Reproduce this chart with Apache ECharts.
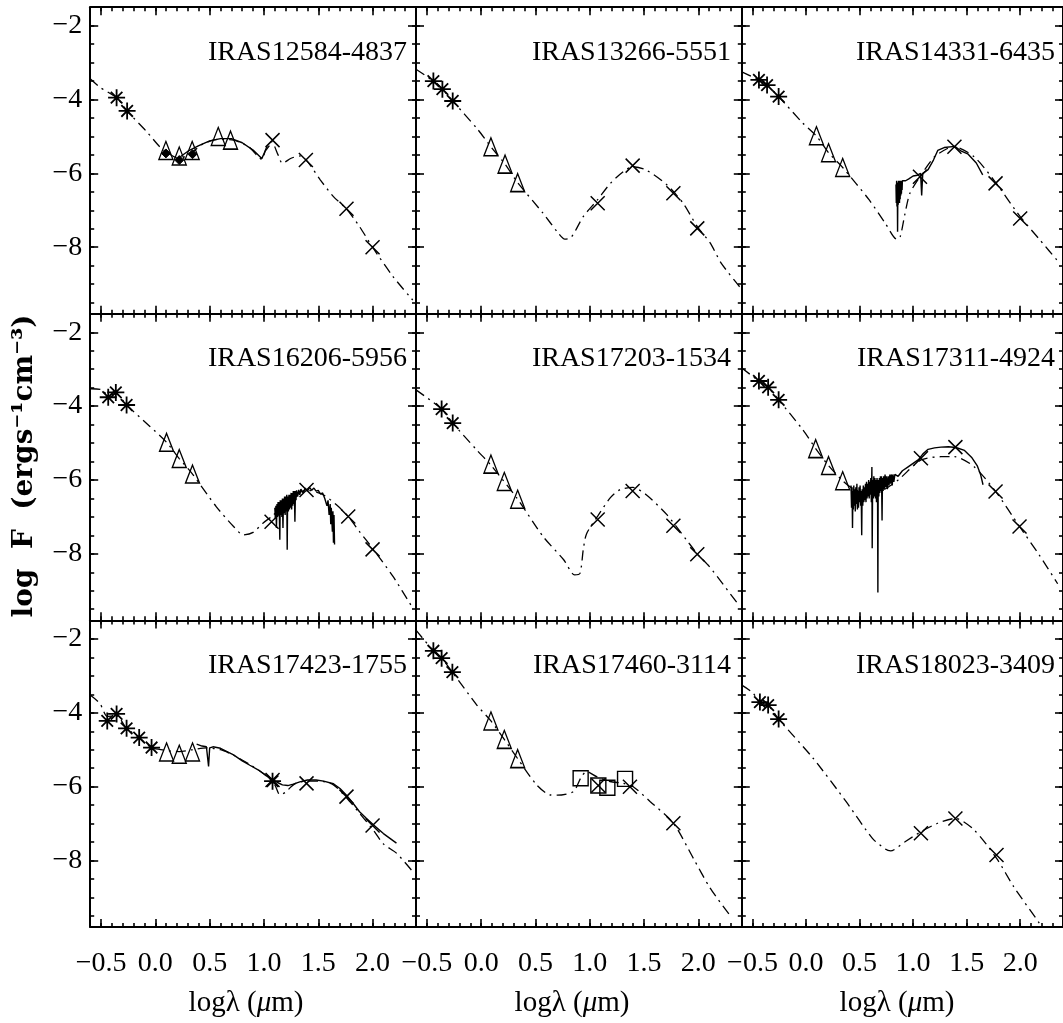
<!DOCTYPE html>
<html><head><meta charset="utf-8">
<script src="https://cdn.jsdelivr.net/npm/echarts@6/dist/echarts.min.js"></script>
<style>html,body{margin:0;padding:0;background:#fff}#c{width:1063px;height:1023px}</style>
</head><body><div id="c"></div>
<script>
// ---------- tick values ----------
const xMajorTicks = [-0.5, 0, 0.5, 1, 1.5, 2];
const xMinorTicks = [-0.5, -0.4, -0.3, -0.2, -0.1, 0, 0.1, 0.2, 0.3, 0.4, 0.5, 0.6, 0.7, 0.8, 0.9, 1, 1.1, 1.2, 1.3, 1.4, 1.5, 1.6, 1.7, 1.8, 1.9, 2, 2.1, 2.2, 2.3];
const yMajorTicks = [-8, -6, -4, -2];
const yMinorTicks = [-9.5, -9, -8.5, -8, -7.5, -7, -6.5, -6, -5.5, -5, -4.5, -4, -3.5, -3, -2.5, -2];

// ---------- panel names ----------
const names = ['IRAS12584-4837', 'IRAS13266-5551', 'IRAS14331-6435',
               'IRAS16206-5956', 'IRAS17203-1534', 'IRAS17311-4924',
               'IRAS17423-1755', 'IRAS17460-3114', 'IRAS18023-3409'];

// ---------- panel 1 ----------
const p1_model = [[-0.6,-3.44],[-0.51,-3.67],[-0.357,-3.95],[-0.26,-4.31],[-0.08,-4.87],[0.04,-5.28],[0.1,-5.42],[0.22,-5.6],[0.35,-5.4],[0.44,-5.2],[0.58,-5.08],[0.72,-5.1],[0.86,-5.28],[0.98,-5.62],[1.02,-5.32],[1.07,-5.14],[1.13,-5.5],[1.17,-5.73],[1.25,-5.59],[1.33,-5.53],[1.39,-5.64],[1.52,-6.18],[1.64,-6.63],[1.76,-6.96],[1.88,-7.44],[2.0,-8.0],[2.19,-8.8],[2.37,-9.43]];
const p1_spec = [[0.23,-5.55],[0.3,-5.4],[0.4,-5.25],[0.5,-5.12],[0.6,-5.06],[0.7,-5.06],[0.8,-5.17],[0.9,-5.37],[0.98,-5.6],[1.01,-5.4],[1.05,-5.25]];
const p1_ast = [[-0.357,-3.95],[-0.26,-4.31]];
const p1_tri = [[0.097,-5.38],[0.22,-5.53],[0.339,-5.38],[0.579,-5.0],[0.692,-5.1]];
const p1_diam = [[0.097,-5.46],[0.22,-5.64],[0.342,-5.48]];
const p1_cross = [[1.079,-5.1],[1.386,-5.64],[1.76,-6.96],[2.0,-8.0]];

// ---------- panel 2 ----------
const p2_model = [[-0.6,-3.18],[-0.44,-3.5],[-0.357,-3.72],[-0.262,-4.04],[-0.04,-4.78],[0.09,-5.28],[0.22,-5.75],[0.336,-6.25],[0.57,-7.08],[0.7,-7.58],[0.77,-7.78],[0.83,-7.73],[0.94,-7.17],[1.07,-6.72],[1.19,-6.27],[1.31,-5.95],[1.395,-5.82],[1.52,-5.91],[1.71,-6.31],[1.86,-6.81],[1.99,-7.44],[2.11,-7.89],[2.21,-8.43],[2.38,-9.07]];
const p2_ast = [[-0.44,-3.5],[-0.357,-3.72],[-0.262,-4.04]];
const p2_tri = [[0.09,-5.28],[0.22,-5.75],[0.336,-6.25]];
const p2_cross = [[1.073,-6.81],[1.395,-5.79],[1.77,-6.54],[1.99,-7.49]];

// ---------- panel 3 ----------
const p3_model = [[-0.6,-3.25],[-0.44,-3.47],[-0.364,-3.61],[-0.256,-3.92],[-0.03,-4.64],[0.1,-5.0],[0.21,-5.44],[0.342,-5.84],[0.59,-6.72],[0.74,-7.35],[0.85,-7.79],[0.88,-7.71],[0.925,-7.08],[0.97,-6.54],[1.064,-6.09],[1.2,-5.55],[1.325,-5.32],[1.386,-5.28],[1.57,-5.55],[1.754,-6.18],[2.0,-7.17],[2.184,-7.8],[2.37,-8.44]];
const p3_spec = [[0.84,-6.3],[0.843,-6.8],[0.846,-6.2],[0.849,-6.9],[0.852,-6.25],[0.855,-7.58],[0.858,-6.3],[0.861,-6.85],[0.864,-6.2],[0.867,-6.75],[0.87,-6.25],[0.873,-6.8],[0.876,-6.2],[0.879,-6.7],[0.882,-6.25],[0.885,-6.6],[0.888,-6.2],[0.891,-6.55],[0.894,-6.25],[0.897,-6.45],[0.9,-6.2],[0.93,-6.2],[0.96,-6.15],[1.0,-6.07],[1.04,-6.05],[1.07,-6.0],[1.08,-6.6],[1.09,-6.0],[1.14,-5.9],[1.19,-5.64],[1.23,-5.38],[1.29,-5.3],[1.39,-5.27],[1.45,-5.4],[1.51,-5.47],[1.59,-5.72],[1.65,-6.04]];
const p3_ast = [[-0.44,-3.47],[-0.364,-3.61],[-0.256,-3.92]];
const p3_tri = [[0.097,-4.98],[0.21,-5.44],[0.342,-5.84]];
const p3_cross = [[1.064,-6.09],[1.386,-5.28],[1.77,-6.27],[2.0,-7.22]];

// ---------- panel 4 ----------
const p4_model = [[-0.6,-3.53],[-0.5,-3.55],[-0.434,-3.7],[-0.364,-3.66],[-0.265,-3.97],[-0.05,-4.55],[0.103,-4.98],[0.22,-5.42],[0.342,-5.84],[0.56,-6.72],[0.72,-7.26],[0.81,-7.49],[0.9,-7.42],[0.99,-7.17],[1.07,-6.99],[1.21,-6.63],[1.39,-6.27],[1.545,-6.4],[1.67,-6.68],[1.776,-6.99],[1.88,-7.4],[2.0,-7.85],[2.19,-8.62],[2.37,-9.47]];
const p4_spec = [[1.1,-6.75],[1.105,-7.05],[1.11,-6.7],[1.115,-7.3],[1.12,-6.65],[1.125,-7.0],[1.13,-6.6],[1.135,-6.95],[1.14,-6.6],[1.146,-7.62],[1.15,-6.55],[1.155,-6.95],[1.16,-6.55],[1.165,-7.0],[1.17,-6.5],[1.175,-7.3],[1.18,-6.5],[1.185,-6.9],[1.19,-6.45],[1.195,-6.95],[1.2,-6.45],[1.205,-6.85],[1.21,-6.4],[1.214,-7.89],[1.218,-6.45],[1.225,-6.85],[1.23,-6.4],[1.235,-6.8],[1.24,-6.4],[1.245,-6.75],[1.25,-6.35],[1.255,-6.8],[1.26,-6.35],[1.265,-6.7],[1.27,-6.3],[1.275,-6.65],[1.28,-6.3],[1.285,-7.13],[1.29,-6.3],[1.295,-6.55],[1.3,-6.28],[1.31,-6.45],[1.32,-6.27],[1.33,-6.4],[1.34,-6.25],[1.36,-6.35],[1.38,-6.22],[1.4,-6.3],[1.42,-6.2],[1.44,-6.28],[1.46,-6.22],[1.48,-6.3],[1.5,-6.28],[1.52,-6.38],[1.54,-6.35],[1.56,-6.5],[1.57,-6.45],[1.58,-6.7],[1.59,-6.55],[1.6,-6.95],[1.61,-6.65],[1.615,-7.2],[1.62,-6.75],[1.63,-7.4],[1.635,-6.85],[1.64,-7.7],[1.645,-6.95],[1.65,-7.75]];
const p4_ast = [[-0.434,-3.76],[-0.364,-3.63],[-0.265,-3.97]];
const p4_tri = [[0.103,-4.98],[0.22,-5.42],[0.342,-5.84]];
const p4_cross = [[1.07,-7.13],[1.392,-6.27],[1.776,-6.99],[2.0,-7.88]];

// ---------- panel 5 ----------
const p5_model = [[-0.6,-3.56],[-0.364,-4.08],[-0.262,-4.46],[-0.04,-5.19],[0.09,-5.6],[0.336,-6.52],[0.57,-7.53],[0.76,-8.16],[0.86,-8.57],[0.91,-8.53],[0.94,-7.89],[0.97,-7.46],[1.073,-6.98],[1.19,-6.48],[1.28,-6.26],[1.395,-6.2],[1.52,-6.4],[1.71,-6.94],[1.89,-7.62],[1.99,-8.0],[2.1,-8.34],[2.37,-9.38]];
const p5_ast = [[-0.364,-4.08],[-0.262,-4.46]];
const p5_tri = [[0.09,-5.57],[0.213,-6.04],[0.336,-6.52]];
const p5_cross = [[1.073,-7.07],[1.395,-6.3],[1.77,-7.24],[1.99,-8.01]];

// ---------- panel 6 ----------
const p6_model = [[-0.6,-2.97],[-0.44,-3.32],[-0.354,-3.49],[-0.256,-3.83],[-0.03,-4.64],[0.09,-5.15],[0.21,-5.61],[0.342,-6.02],[0.42,-6.2],[0.55,-6.35],[0.7,-6.3],[0.86,-6.0],[1.073,-5.46],[1.26,-5.37],[1.386,-5.37],[1.57,-5.64],[1.77,-6.31],[1.994,-7.26],[2.18,-8.04],[2.35,-8.81]];
const p6_spec = [[0.42,-6.15],[0.425,-6.75],[0.43,-6.2],[0.434,-7.3],[0.438,-6.3],[0.442,-6.8],[0.446,-6.15],[0.45,-6.7],[0.455,-6.25],[0.46,-6.85],[0.465,-6.2],[0.47,-6.65],[0.475,-6.1],[0.48,-6.8],[0.485,-6.3],[0.49,-6.75],[0.495,-6.2],[0.5,-6.6],[0.505,-6.15],[0.51,-6.7],[0.515,-6.3],[0.52,-7.5],[0.524,-6.25],[0.53,-6.7],[0.535,-6.15],[0.54,-6.6],[0.545,-6.2],[0.55,-6.55],[0.555,-6.1],[0.56,-6.6],[0.565,-6.05],[0.57,-6.5],[0.575,-6.1],[0.58,-6.45],[0.585,-6.0],[0.59,-6.5],[0.595,-6.05],[0.6,-6.4],[0.605,-5.95],[0.61,-6.6],[0.615,-5.65],[0.618,-7.85],[0.622,-6.0],[0.628,-6.5],[0.633,-5.9],[0.638,-6.45],[0.643,-5.95],[0.648,-6.5],[0.653,-6.0],[0.658,-6.6],[0.663,-5.95],[0.668,-6.4],[0.671,-9.05],[0.674,-6.0],[0.68,-6.45],[0.685,-5.95],[0.69,-6.35],[0.695,-5.9],[0.7,-6.3],[0.705,-5.9],[0.71,-7.1],[0.714,-5.95],[0.72,-6.3],[0.725,-5.9],[0.73,-6.25],[0.738,-5.85],[0.745,-6.2],[0.752,-5.9],[0.76,-6.25],[0.768,-5.9],[0.775,-6.15],[0.783,-5.85],[0.79,-6.1],[0.798,-5.85],[0.805,-6.15],[0.812,-5.85],[0.82,-6.05],[0.83,-5.85],[0.86,-5.9],[0.9,-5.75],[0.95,-5.65],[1.0,-5.55],[1.05,-5.45],[1.09,-5.3],[1.14,-5.17],[1.2,-5.13],[1.26,-5.11],[1.33,-5.1],[1.4,-5.12],[1.48,-5.2],[1.55,-5.4],[1.6,-5.62],[1.63,-5.85],[1.653,-6.13]];
const p6_ast = [[-0.44,-3.32],[-0.354,-3.49],[-0.256,-3.83]];
const p6_tri = [[0.09,-5.15],[0.21,-5.61],[0.342,-6.02]];
const p6_cross = [[1.073,-5.41],[1.395,-5.11],[1.77,-6.31],[1.994,-7.26]];

// ---------- panel 7 ----------
const p7_model = [[-0.6,-3.52],[-0.51,-3.75],[-0.443,-4.1],[-0.357,-4.08],[-0.265,-4.42],[-0.149,-4.67],[-0.035,-4.94],[0.1,-5.02],[0.22,-5.05],[0.34,-5.0],[0.47,-4.95],[0.6,-5.0],[0.72,-5.15],[0.87,-5.4],[1.02,-5.7],[1.1,-5.95],[1.146,-6.22],[1.2,-6.15],[1.25,-6.0],[1.3,-5.9],[1.39,-5.85],[1.52,-5.85],[1.64,-5.95],[1.76,-6.3],[1.88,-6.72],[2.0,-7.15],[2.1,-7.55],[2.22,-7.8],[2.37,-8.3]];
const p7_spec = [[0.38,-4.85],[0.43,-4.9],[0.47,-4.92],[0.49,-5.45],[0.5,-4.95],[0.53,-4.92],[0.6,-4.96],[0.66,-5.05],[0.72,-5.14],[0.8,-5.3],[0.87,-5.42],[0.95,-5.55],[1.02,-5.7],[1.08,-5.8],[1.12,-5.88],[1.17,-5.95],[1.22,-5.97],[1.27,-5.93],[1.33,-5.87],[1.4,-5.82],[1.48,-5.82],[1.55,-5.85],[1.64,-5.92],[1.7,-6.05],[1.76,-6.23],[1.82,-6.45],[1.88,-6.68],[1.94,-6.85],[2.01,-7.04],[2.1,-7.27],[2.16,-7.4],[2.22,-7.53]];
const p7_ast = [[-0.443,-4.22],[-0.357,-4.03],[-0.265,-4.42],[-0.149,-4.67],[-0.035,-4.94],[1.079,-5.85]];
const p7_tri = [[0.103,-5.06],[0.22,-5.12],[0.342,-5.06]];
const p7_cross = [[1.079,-5.82],[1.392,-5.91],[1.76,-6.27],[2.0,-7.05]];

// ---------- panel 8 ----------
const p8_model = [[-0.6,-1.76],[-0.44,-2.32],[-0.364,-2.52],[-0.265,-2.9],[-0.04,-3.79],[0.09,-4.22],[0.213,-4.72],[0.336,-5.24],[0.51,-5.95],[0.63,-6.22],[0.7,-6.23],[0.85,-6.13],[0.92,-5.75],[0.97,-5.59],[1.064,-5.73],[1.186,-5.86],[1.31,-5.91],[1.4,-6.0],[1.555,-6.4],[1.77,-6.99],[1.954,-7.94],[2.107,-8.74],[2.31,-9.56]];
const p8_ast = [[-0.44,-2.32],[-0.364,-2.52],[-0.265,-2.9]];
const p8_tri = [[0.09,-4.22],[0.213,-4.72],[0.336,-5.24]];
const p8_sq = [[0.916,-5.77],[1.079,-5.97],[1.162,-6.03],[1.325,-5.79]];
const p8_cross = [[1.079,-5.97],[1.37,-6.0],[1.77,-6.99]];

// ---------- panel 9 ----------
const p9_model = [[-0.6,-3.25],[-0.5,-3.45],[-0.431,-3.71],[-0.354,-3.79],[-0.256,-4.17],[0.066,-5.23],[0.373,-6.4],[0.62,-7.4],[0.74,-7.69],[0.79,-7.74],[0.925,-7.49],[1.073,-7.22],[1.23,-6.99],[1.395,-6.86],[1.57,-7.17],[1.78,-7.94],[1.94,-8.71],[2.18,-9.7],[2.2,-9.8]];
const p9_ast = [[-0.431,-3.71],[-0.354,-3.79],[-0.256,-4.17]];
const p9_cross = [[1.073,-7.26],[1.395,-6.86],[1.779,-7.85]];

// ---------- assemble ----------
const panels = [
  {model:p1_model, spec:p1_spec, ast:p1_ast, tri:p1_tri, cross:p1_cross, diam:p1_diam},
  {model:p2_model, ast:p2_ast, tri:p2_tri, cross:p2_cross},
  {model:p3_model, spec:p3_spec, ast:p3_ast, tri:p3_tri, cross:p3_cross},
  {model:p4_model, spec:p4_spec, ast:p4_ast, tri:p4_tri, cross:p4_cross},
  {model:p5_model, ast:p5_ast, tri:p5_tri, cross:p5_cross},
  {model:p6_model, spec:p6_spec, ast:p6_ast, tri:p6_tri, cross:p6_cross},
  {model:p7_model, spec:p7_spec, ast:p7_ast, tri:p7_tri, cross:p7_cross},
  {model:p8_model, ast:p8_ast, tri:p8_tri, cross:p8_cross, sq:p8_sq},
  {model:p9_model, ast:p9_ast, cross:p9_cross}
];

const FONT = '"Liberation Serif", "Times New Roman", serif';
const colLeft = [90.2, 416.0, 741.8];
const rowTop = [7.2, 313.8, 620.5];
const titleRight = [407, 731, 1055];
const GW = 325.8, GH = 306.5;
const XMIN = -0.6, XMAX = 2.4, YMIN = -9.8, YMAX = -1.5;

const fmt = (v, d) => (v < 0 ? '\u2212' : '') + Math.abs(v).toFixed(d);

const grids = [], xAxes = [], yAxes = [], series = [], titles = [];
const ASTER = 'path://M5,0L5,10M0,5L10,5M1.6,1.6L8.4,8.4M1.6,8.4L8.4,1.6';
const CROSS = 'path://M0,0L10,10M0,10L10,0';

panels.forEach((p, gi) => {
  const r = Math.floor(gi / 3), c = gi % 3;
  grids.push({left: colLeft[c], top: rowTop[r], width: GW, height: GH, containLabel: false});
  const lineSt = {color: '#000', width: 2};
  const tickSt = {color: '#000', width: 1.6};
  const baseX = {gridIndex: gi, type: 'value', min: XMIN, max: XMAX, splitLine: {show: false}};
  const baseY = {gridIndex: gi, type: 'value', min: YMIN, max: YMAX, splitLine: {show: false}};
  xAxes.push(Object.assign({}, baseX, {position: 'bottom',
    axisLine: {show: true, onZero: false, lineStyle: lineSt},
    axisTick: {show: true, inside: true, length: 8, customValues: xMajorTicks, lineStyle: tickSt},
    axisLabel: {show: r === 2, customValues: xMajorTicks, formatter: v => fmt(v, 1), margin: 23,
      fontFamily: FONT, fontSize: 28, color: '#000'}}));
  xAxes.push(Object.assign({}, baseX, {position: 'bottom',
    axisLine: {show: false, onZero: false},
    axisTick: {show: true, inside: true, length: 4, customValues: xMinorTicks, lineStyle: tickSt},
    axisLabel: {show: false}}));
  xAxes.push(Object.assign({}, baseX, {position: 'top',
    axisLine: {show: true, onZero: false, lineStyle: lineSt},
    axisTick: {show: true, inside: true, length: 8, customValues: xMajorTicks, lineStyle: tickSt},
    axisLabel: {show: false}}));
  xAxes.push(Object.assign({}, baseX, {position: 'top',
    axisLine: {show: false, onZero: false},
    axisTick: {show: true, inside: true, length: 4, customValues: xMinorTicks, lineStyle: tickSt},
    axisLabel: {show: false}}));
  yAxes.push(Object.assign({}, baseY, {position: 'left',
    axisLine: {show: true, onZero: false, lineStyle: lineSt},
    axisTick: {show: true, inside: true, length: 8, customValues: yMajorTicks, lineStyle: tickSt},
    axisLabel: {show: c === 0, customValues: yMajorTicks, formatter: v => fmt(v, 0), margin: 8,
      fontFamily: FONT, fontSize: 28, color: '#000'}}));
  yAxes.push(Object.assign({}, baseY, {position: 'left',
    axisLine: {show: false, onZero: false},
    axisTick: {show: true, inside: true, length: 4, customValues: yMinorTicks, lineStyle: tickSt},
    axisLabel: {show: false}}));
  yAxes.push(Object.assign({}, baseY, {position: 'right',
    axisLine: {show: true, onZero: false, lineStyle: lineSt},
    axisTick: {show: true, inside: true, length: 8, customValues: yMajorTicks, lineStyle: tickSt},
    axisLabel: {show: false}}));
  yAxes.push(Object.assign({}, baseY, {position: 'right',
    axisLine: {show: false, onZero: false},
    axisTick: {show: true, inside: true, length: 4, customValues: yMinorTicks, lineStyle: tickSt},
    axisLabel: {show: false}}));

  const xi = gi * 4, yi = gi * 4;
  series.push({type: 'line', xAxisIndex: xi, yAxisIndex: yi, data: p.model, symbol: 'none',
    smooth: 0.25, clip: true, silent: true, z: 2,
    lineStyle: {color: '#000', width: 1.3, type: [10, 5, 2, 5]}});
  if (p.spec) series.push({type: 'line', xAxisIndex: xi, yAxisIndex: yi, data: p.spec, symbol: 'none',
    smooth: false, clip: true, silent: true, z: 3, lineStyle: {color: '#000', width: 1.4}});
  const sc = (data, symbol, size, fill, bw) => series.push({type: 'scatter', xAxisIndex: xi, yAxisIndex: yi,
    data, symbol, symbolSize: size, silent: true, z: 4,
    itemStyle: {color: fill, borderColor: '#000', borderWidth: bw, opacity: 1}});
  if (p.ast) sc(p.ast, ASTER, 17, 'none', 1.8);
  if (p.tri) sc(p.tri, 'triangle', [14, 18], 'none', 1.4);
  if (p.cross) sc(p.cross, CROSS, 14, 'none', 1.5);
  if (p.sq) sc(p.sq, 'rect', 15, 'none', 1.4);
  if (p.diam) sc(p.diam, 'diamond', 9, '#000', 1);

  titles.push({text: names[gi], right: 1063 - titleRight[c], top: rowTop[r] + 31, padding: 0,
    textStyle: {fontFamily: FONT, fontSize: 28, fontWeight: 'normal', color: '#000'}});
});

const graphics = [
  {type: 'text', x: 25, y: 466, rotation: Math.PI / 2,
   style: {text: 'log  F  (ergs\u207B\u00B9cm\u207B\u00B3)', fill: '#000', align: 'center', verticalAlign: 'middle',
     fontFamily: '"DejaVu Serif", serif', fontWeight: 'bold', fontSize: 28}}
];
[246, 572, 897].forEach(cx => graphics.push({type: 'text', x: cx, y: 1003,
  style: {text: 'log\u03BB ({i|\u03BC}m)', fill: '#000', align: 'center', verticalAlign: 'middle',
    fontFamily: FONT, fontSize: 29,
    rich: {i: {fontStyle: 'italic', fontFamily: FONT, fontSize: 29, fill: '#000'}}}}));

const chart = echarts.init(document.getElementById('c'), null, {renderer: 'canvas'});
chart.setOption({
  animation: false,
  backgroundColor: '#fff',
  title: titles,
  grid: grids,
  xAxis: xAxes,
  yAxis: yAxes,
  series: series,
  graphic: graphics
});
</script>
</body></html>
